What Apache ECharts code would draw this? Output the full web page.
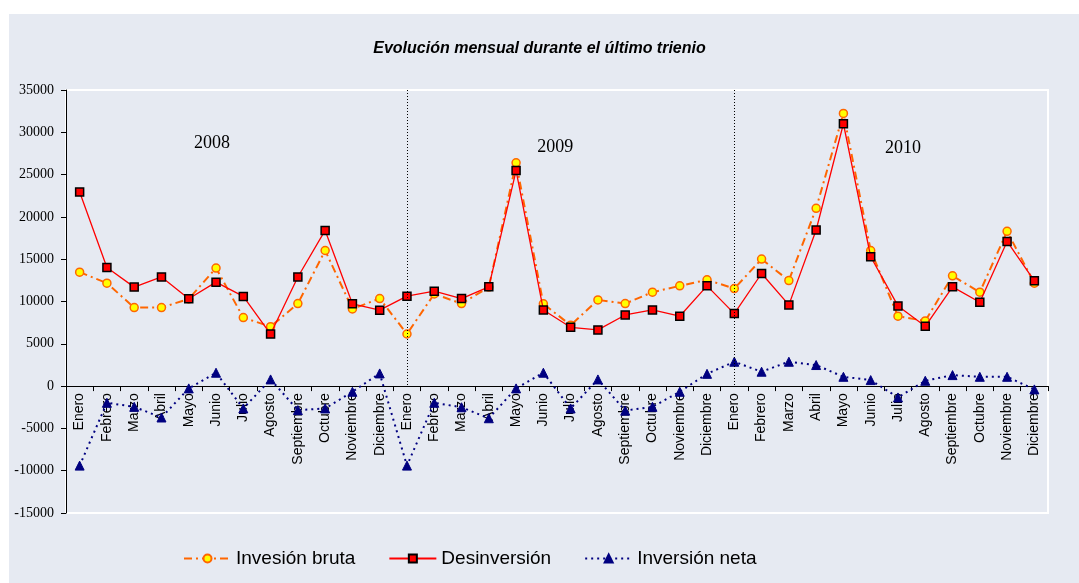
<!DOCTYPE html>
<html>
<head>
<meta charset="utf-8">
<script src="https://cdn.jsdelivr.net/npm/echarts@6/dist/echarts.min.js"></script>
<style>
html,body{margin:0;padding:0;background:#fff;}
#bg{position:absolute;left:9px;top:14px;width:1070px;height:569px;background:#E6EAF2;}
#chart{position:absolute;left:0;top:0;width:1079px;height:583px;}
</style>
</head>
<body>
<div id="bg"></div>
<div id="chart"></div>
<script>
const months = ['Enero','Febrero','Marzo','Abril','Mayo','Junio','Julio','Agosto','Septiembre','Octubre','Noviembre','Diciembre'];
const years = ['2008','2009','2010'];
const yTicks = {min: -15000, max: 35000, interval: 5000};

const brutaValues = [
  13470, 12170, 9280, 9280, 10300, 13950, 8100, 7030, 9750, 16030, 9120, 10350,
  6160, 10900, 9750, 11700, 26390, 9720, 7200, 10190, 9750, 11100, 11850, 12560,
  11530, 15010, 12480, 21010, 32230, 16030, 8260, 7700, 13030, 11100, 18290, 12170
];
const desinversionValues = [
  22950, 14030, 11700, 12900, 10320, 12290, 10600, 6150, 12900, 18400, 9730, 8980,
  10630, 11220, 10350, 11730, 25480, 9000, 6950, 6640, 8410, 9000, 8260, 11850,
  8570, 13310, 9600, 18450, 31010, 15290, 9480, 7070, 11730, 9910, 17100, 12440
];
const netaValues = [
  -9400, -1970, -2450, -3710, -270, 1580, -2640, 790, -2840, -2640, -670, 1500,
  -9400, -1970, -2500, -3800, -270, 1580, -2640, 790, -2900, -2450, -670, 1450,
  2880, 1700, 2880, 2490, 1100, 710, -1340, 630, 1300, 1100, 1100, -390
];
// year annotation: [category index, value, pixel offset x]
const yearLabels = [
  ['2008', 5, 28650, -4],
  ['2009', 17, 28200, 12],
  ['2010', 30, 28100, 5]
];
const separatorIdx = [12, 24];

const categories = [];
years.forEach(y => months.forEach(m => categories.push(y + '|' + m)));

const gridBox = {left: 66, top: 90, right: 31, bottom: 70};
const chartH = 583;
const plotH = chartH - gridBox.top - gridBox.bottom;
// move the category axis up onto the zero value line
const zeroOffset = -plotH * (0 - yTicks.min) / (yTicks.max - yTicks.min);

const chart = echarts.init(document.getElementById('chart'), null, {renderer: 'canvas'});
chart.setOption({
  animation: false,
  backgroundColor: 'transparent',
  title: {
    text: 'Evolución mensual durante el último trienio',
    left: 'center',
    top: 36,
    textStyle: {fontFamily: 'Liberation Sans, Arial', fontSize: 16, fontWeight: 'bold', fontStyle: 'italic', color: '#000'}
  },
  legend: {
    left: 178,
    top: 544,
    itemWidth: 47,
    itemHeight: 10,
    itemGap: 33,
    textStyle: {fontFamily: 'Liberation Sans, Arial', fontSize: 19, color: '#000'},
    data: ['Invesión bruta', 'Desinversión', 'Inversión neta']
  },
  grid: Object.assign({
    show: true, borderColor: '#ffffff', borderWidth: 2, backgroundColor: 'transparent'
  }, gridBox),
  xAxis: {
    type: 'category',
    data: categories,
    boundaryGap: true,
    position: 'bottom',
    offset: zeroOffset,
    axisLine: {onZero: false, lineStyle: {color: '#000', width: 1}},
    axisTick: {show: true, length: 5, lineStyle: {color: '#000'}},
    axisLabel: {
      rotate: 90,
      margin: 7,
      interval: 0,
      fontFamily: 'Liberation Sans, Arial',
      fontSize: 14,
      color: '#000',
      formatter: v => v.split('|')[1]
    },
    splitLine: {show: false}
  },
  yAxis: {
    type: 'value',
    min: yTicks.min, max: yTicks.max, interval: yTicks.interval,
    axisLine: {show: true, lineStyle: {color: '#000', width: 1}},
    axisTick: {show: true, length: 5, lineStyle: {color: '#000'}},
    axisLabel: {margin: 12, fontFamily: 'Liberation Serif, Times New Roman', fontSize: 14, color: '#000', formatter: v => String(v)},
    splitLine: {show: false}
  },
  series: [
    {
      name: 'Invesión bruta',
      type: 'line',
      data: brutaValues,
      symbol: 'circle',
      symbolSize: 8,
      itemStyle: {color: '#FFFF00', borderColor: '#FF6600', borderWidth: 1.5},
      lineStyle: {color: '#FF6600', width: 2, type: [8, 4, 2, 4]},
      z: 2,
      markPoint: {
        symbol: 'rect',
        symbolSize: 1,
        silent: true,
        itemStyle: {color: 'rgba(0,0,0,0)', borderWidth: 0},
        label: {
          show: true,
          position: 'inside',
          fontFamily: 'Liberation Serif, Times New Roman',
          fontSize: 18,
          color: '#000',
          formatter: p => p.name
        },
        data: yearLabels.map(d => ({name: d[0], coord: [d[1], d[2]], label: {offset: [d[3], 0]}}))
      }
    },
    {
      name: 'Desinversión',
      type: 'line',
      data: desinversionValues,
      symbol: 'rect',
      symbolSize: 8,
      itemStyle: {color: '#FF0000', borderColor: '#000', borderWidth: 1.5},
      lineStyle: {color: '#FF0000', width: 1.3, type: 'solid'},
      z: 3
    },
    {
      name: 'Inversión neta',
      type: 'line',
      data: netaValues,
      symbol: 'triangle',
      symbolSize: 9,
      itemStyle: {color: '#000080', borderColor: '#000080', borderWidth: 1},
      lineStyle: {color: '#000080', width: 2, type: [2, 4]},
      z: 4,
      markLine: {
        silent: true,
        symbol: ['none', 'none'],
        label: {show: false},
        lineStyle: {color: '#000', width: 1, type: [1, 2]},
        data: separatorIdx.map(i => [{coord: [i, yTicks.max]}, {coord: [i, 0]}])
      }
    }
  ]
});
</script>
</body>
</html>
